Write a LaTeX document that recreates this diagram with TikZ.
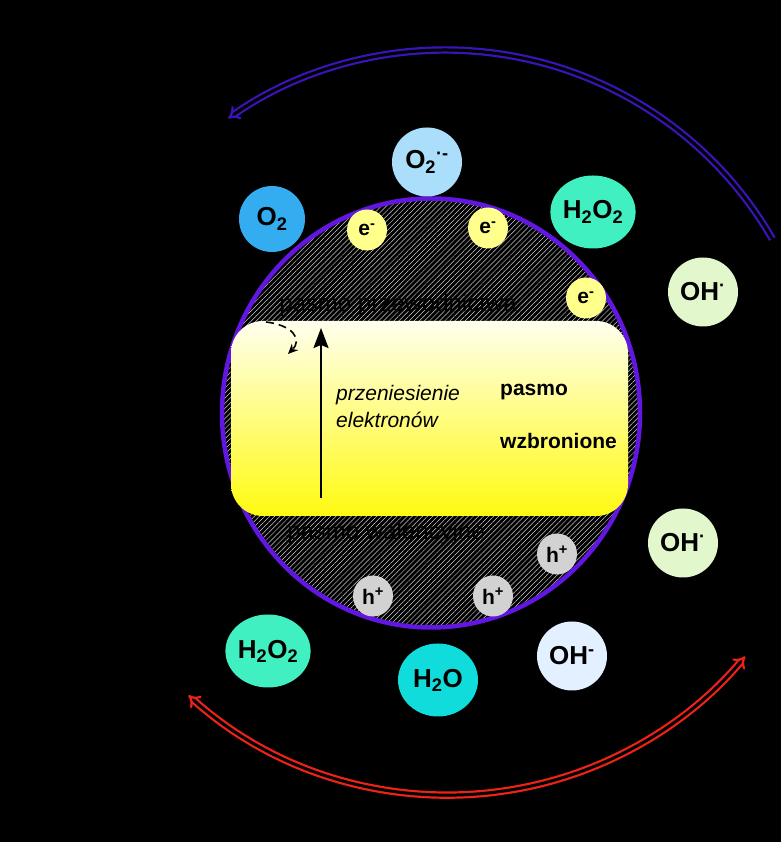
\documentclass[tikz,border=0pt]{standalone}
\usepackage{fontspec}
\setmainfont{Liberation Sans}
\usetikzlibrary{shapes.geometric,patterns.meta,arrows.meta}

\definecolor{shellviolet}{RGB}{98,22,225}
\definecolor{redoxblue}{RGB}{58,20,185}
\definecolor{oxred}{RGB}{240,34,24}
\definecolor{oxblue}{RGB}{52,172,240}
\definecolor{superox}{RGB}{170,222,250}
\definecolor{peroxide}{RGB}{64,240,192}
\definecolor{water}{RGB}{16,220,220}
\definecolor{hydroxyl}{RGB}{226,248,204}
\definecolor{hydroxide}{RGB}{226,240,255}
\definecolor{electron}{RGB}{255,255,140}
\definecolor{hole}{RGB}{210,210,210}

\newcommand{\fsz}[1]{\fontsize{#1}{#1}\selectfont}

\begin{document}
\begin{tikzpicture}[x=1pt, y=1pt,
  ion/.style={ellipse, inner sep=0pt, font=\bfseries\fsz{26}},
  largeion/.style={minimum width=80pt, minimum height=73pt},
  midion/.style={minimum width=70pt, minimum height=69pt},
  carrier/.style={ellipse, inner sep=0pt, minimum width=40pt, minimum height=41pt,
                  font=\bfseries\fsz{21}},
  note/.style={font=\fsz{24}, text=black, inner sep=0pt},
  spaced/.style={font=\fsz{24}\addfontfeature{LetterSpace=35}, text=black, inner sep=0pt},
  slanttxt/.style={font=\itshape\fsz{21}, anchor=west, inner sep=0pt},
  gaptxt/.style={font=\bfseries\fsz{21}, anchor=west, inner sep=0pt},
  redox/.style={double=black, double distance=3pt, line width=2.2pt},
]
  \fill[black] (0,0) rectangle (781,842);
  \useasboundingbox (0,0) rectangle (781,842);

  % photocatalyst grain, hatched, with the band gap across it
  \node[ellipse, draw=shellviolet, line width=4.5pt, inner sep=0pt,
        pattern={Lines[angle=45,distance=3.6pt,line width=0.5pt]}, pattern color=white!80!black,
        minimum width=418pt, minimum height=429pt] (grain) at (431,429) {};
  \node[note] (cb) at (398,537) {pasmo przewodnictwa};
  \node[note] (vb) at (386,309) {pasmo walencyjne};
  \node[rounded corners=32pt, top color={rgb,255:red,255;green,255;blue,238},
        bottom color={rgb,255:red,255;green,250;blue,16},
        minimum width=397pt, minimum height=195pt, inner sep=0pt] (gap) at (429.5,423.5) {};

  \node[slanttxt] (move1) at (336,447) {przeniesienie};
  \node[slanttxt] (move2) at (336,422) {elektronów};
  \node[gaptxt] (gap1) at (500,450) {pasmo};
  \node[gaptxt] (gap2) at (500,401) {wzbronione};

  % excitation
  \coordinate (ebot) at (321,344);
  \coordinate (etop) at (321,514);
  \draw[line width=2pt, -{Stealth[length=20pt,width=15pt,inset=3pt]}] (ebot) -- (etop);
  \coordinate (dstart) at (266,520);
  \coordinate (dend) at (288,488);
  \draw[line width=1.6pt, dash pattern=on 8pt off 5pt, -{Stealth[length=10pt,width=9pt]}]
    (dstart) .. controls (292,517) and (303,503) .. (dend);

  % carriers
  \node[carrier, fill=electron] (e1) at (367,612) {e\textsuperscript{-}};
  \node[carrier, fill=electron] (e2) at (488,614) {e\textsuperscript{-}};
  \node[carrier, fill=electron] (e3) at (586,544) {e\textsuperscript{-}};
  \node[carrier, fill=hole] (h1) at (557,288) {h\textsuperscript{+}};
  \node[carrier, fill=hole] (h2) at (373,246) {h\textsuperscript{+}};
  \node[carrier, fill=hole] (h3) at (493,246) {h\textsuperscript{+}};

  % reduction side
  \node[ion, minimum width=66pt, minimum height=66pt, fill=oxblue] (o2) at (272,623) {O\textsubscript{2}};
  \node[ion, midion, fill=superox] (o2rad) at (427,680) {O\textsubscript{2}\textsuperscript{·-}};
  \node[ion, largeion, fill=peroxide] (h2o2a) at (593,630) {H\textsubscript{2}O\textsubscript{2}};
  \node[ion, midion, fill=hydroxyl] (oh1) at (703,550) {OH\textsuperscript{·}};

  % oxidation side
  \node[ion, midion, fill=hydroxyl] (oh2) at (683,299) {OH\textsuperscript{·}};
  \node[ion, largeion, fill=peroxide] (h2o2b) at (268,191) {H\textsubscript{2}O\textsubscript{2}};
  \node[ion, largeion, fill=water] (h2o) at (438,162) {H\textsubscript{2}O};
  \node[ion, midion, fill=hydroxide] (ohm) at (572,186) {OH\textsuperscript{-}};

  % light
  \node[note] (light) at (68,726) {Promień};
  \node[note] (uv) at (112,667) {UV-Vis};
  \node[note, font=\itshape\fsz{24}] (exc) at (131,574) {wzbudzenie};
  \node[note] (hv) at (507,662) {h$\nu$};

  % reaction arcs
  \coordinate (redR) at ([shift={(30:378pt)}]445,414);
  \draw[redox, draw=redoxblue, -{Implies[scale=1.3]}] (redR) arc[start angle=30, end angle=125, radius=378pt];
  \node[spaced] (redt) at (495,816) {reakcje redukcji};
  \coordinate (oxL) at ([shift={(228:388pt)}]448,435);
  \draw[redox, draw=oxred, {Implies[scale=1.3]}-{Implies[scale=1.3]}] (oxL) arc[start angle=228, end angle=320, radius=388pt];
  \node[spaced] (oxt) at (454,24) {reakcje utleniania};
\end{tikzpicture}
\end{document}
